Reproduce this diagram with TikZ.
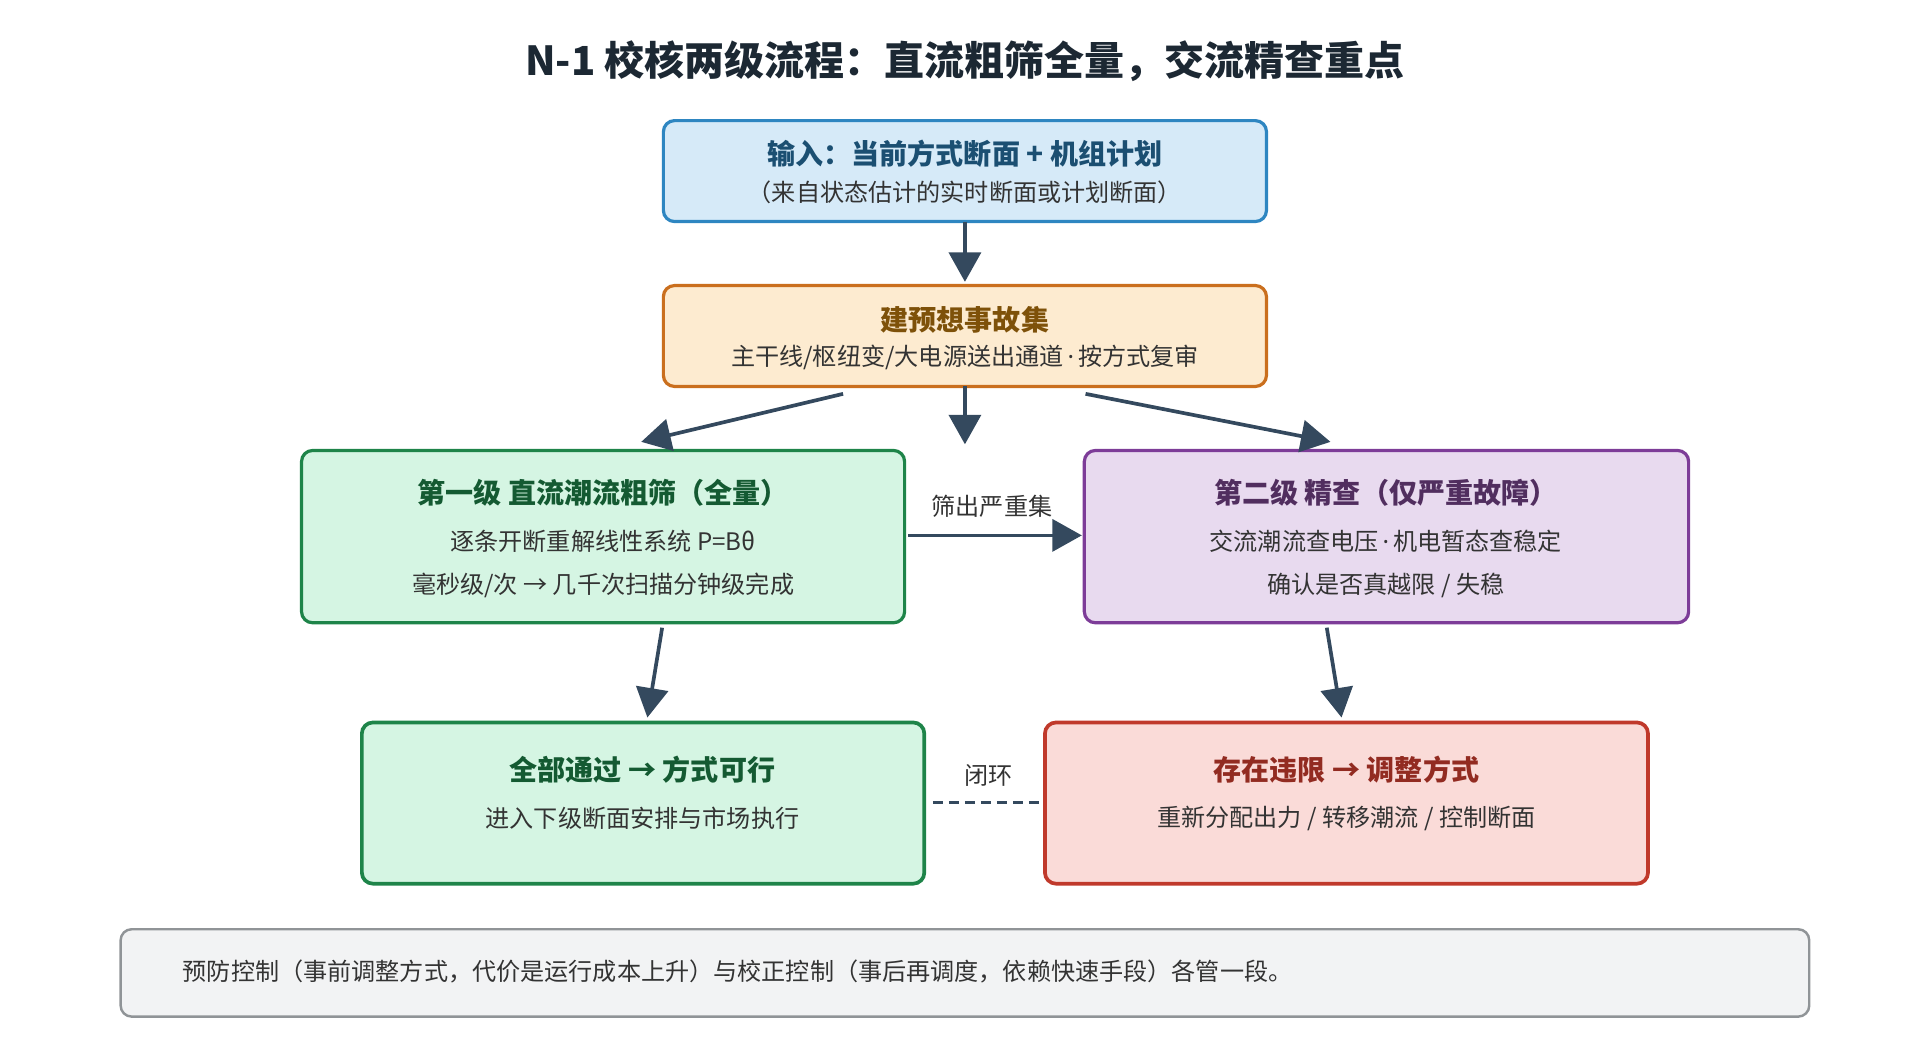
\documentclass[tikz,border=0pt]{standalone}
\usepackage{fontspec}
\setmainfont{Noto Sans CJK SC}
\newfontfamily\latn{Noto Sans}
\newcommand{\md}{{\latn\,·\,}}
\usetikzlibrary{arrows.meta}
\definecolor{ink}{HTML}{34495E}
\definecolor{tc}{HTML}{1C2833}
\definecolor{bf}{HTML}{D6EAF8}\definecolor{bd}{HTML}{2E86C1}\definecolor{bt}{HTML}{1B4F72}
\definecolor{of}{HTML}{FDEBD0}\definecolor{od}{HTML}{CA6F1E}\definecolor{ot}{HTML}{7E5109}
\definecolor{gf}{HTML}{D5F5E3}\definecolor{gd}{HTML}{1E8449}\definecolor{gt}{HTML}{145A32}
\definecolor{pf}{HTML}{E8DAEF}\definecolor{pd}{HTML}{7D3C98}\definecolor{pt}{HTML}{512E5F}
\definecolor{rf}{HTML}{FADBD8}\definecolor{rd}{HTML}{C0392B}\definecolor{rt}{HTML}{922B21}
\definecolor{nf}{HTML}{F2F3F4}\definecolor{nd}{HTML}{909497}
\definecolor{body}{HTML}{333333}
\tikzset{
 box/.style={draw=#1d, fill=#1f, line width=2.6pt, rounded corners=9pt},
 ttl/.style={font=\fontsize{22.8}{27}\selectfont\bfseries, text=#1},
 txt/.style={font=\fontsize{19.6}{23}\selectfont, text=body},
 arr/.style={draw=ink, line width=3pt, -{Triangle[width=26pt,length=24pt]}},
}
\begin{document}
\begin{tikzpicture}[x=1pt,y=-1pt]
\useasboundingbox (0,0) rectangle (1560,845);
\node[font=\fontsize{32.5}{38}\selectfont\bfseries, text=tc] (title) at (784,50) {N-1 校核两级流程：直流粗筛全量，交流精查重点};
% boxes
\draw[box=b] (539,98) rectangle (1029,180);
\node[ttl=bt] (inT) at (784,125) {输入：当前方式断面 + 机组计划};
\node[txt] (inS) at (784,156) {（来自状态估计的实时断面或计划断面）};
\draw[box=o] (539,232) rectangle (1029,314);
\node[ttl=ot] (bT) at (784,260) {建预想事故集};
\node[txt] (bS) at (784,290) {主干线/枢纽变/大电源送出通道\md 按方式复审};
\draw[box=g] (245,366) rectangle (735,506);
\node[ttl=gt] (l1T) at (490,400) {第一级 直流潮流粗筛（全量）};
\node[txt] (l1A) at (490,440) {逐条开断重解线性系统 P=Bθ};
\node[txt] (l1B) at (490,476) {毫秒级/次 → 几千次扫描分钟级完成};
\draw[box=p] (881,366) rectangle (1372,506);
\node[ttl=pt] (l2T) at (1126,400) {第二级 精查（仅严重故障）};
\node[txt] (l2A) at (1126,440) {交流潮流查电压\md 机电暂态查稳定};
\node[txt] (l2B) at (1126,476) {确认是否真越限 / 失稳};
\draw[box=g, line width=3pt] (294,587) rectangle (751,718);
\node[ttl=gt] (okT) at (522,625) {全部通过 → 方式可行};
\node[txt] (okS) at (522,665) {进入下级断面安排与市场执行};
\draw[box=r, line width=3pt] (849,587) rectangle (1339,718);
\node[ttl=rt] (vT) at (1094,625) {存在违限 → 调整方式};
\node[txt] (vS) at (1094,665) {重新分配出力 / 转移潮流 / 控制断面};
\draw[box=n, line width=2pt] (98,755) rectangle (1470,826);
\node[txt, anchor=west] (note) at (145,789) {预防控制（事前调整方式，代价是运行成本上升）与校正控制（事后再调度，依赖快速手段）各管一段。};
% connector endpoints
\coordinate (a1) at (784,180); \coordinate (a2) at (784,229);
\coordinate (b1) at (685,320); \coordinate (b2) at (521,359);
\coordinate (c1) at (784,314); \coordinate (c2) at (784,361);
\coordinate (d1) at (882,320); \coordinate (d2) at (1081,359);
\coordinate (e1) at (738,435); \coordinate (e2) at (879,435);
\coordinate (f1) at (538,510); \coordinate (f2) at (526,583);
\coordinate (g1) at (1078,510); \coordinate (g2) at (1090,583);
\coordinate (h1) at (758,652); \coordinate (h2) at (848,652);
\draw[arr] (a1) -- (a2);
\draw[arr] (b1) -- (b2);
\draw[arr] (c1) -- (c2);
\draw[arr] (d1) -- (d2);
\draw[arr] (e1) -- (e2);
\draw[arr] (f1) -- (f2);
\draw[arr] (g1) -- (g2);
\draw[ink, line width=2.5pt, dash pattern=on 8pt off 5pt] (h1) -- (h2);
\node[txt] (eL) at (806,411) {筛出严重集};
\node[txt] (hL) at (803,630) {闭环};
\end{tikzpicture}
\end{document}
